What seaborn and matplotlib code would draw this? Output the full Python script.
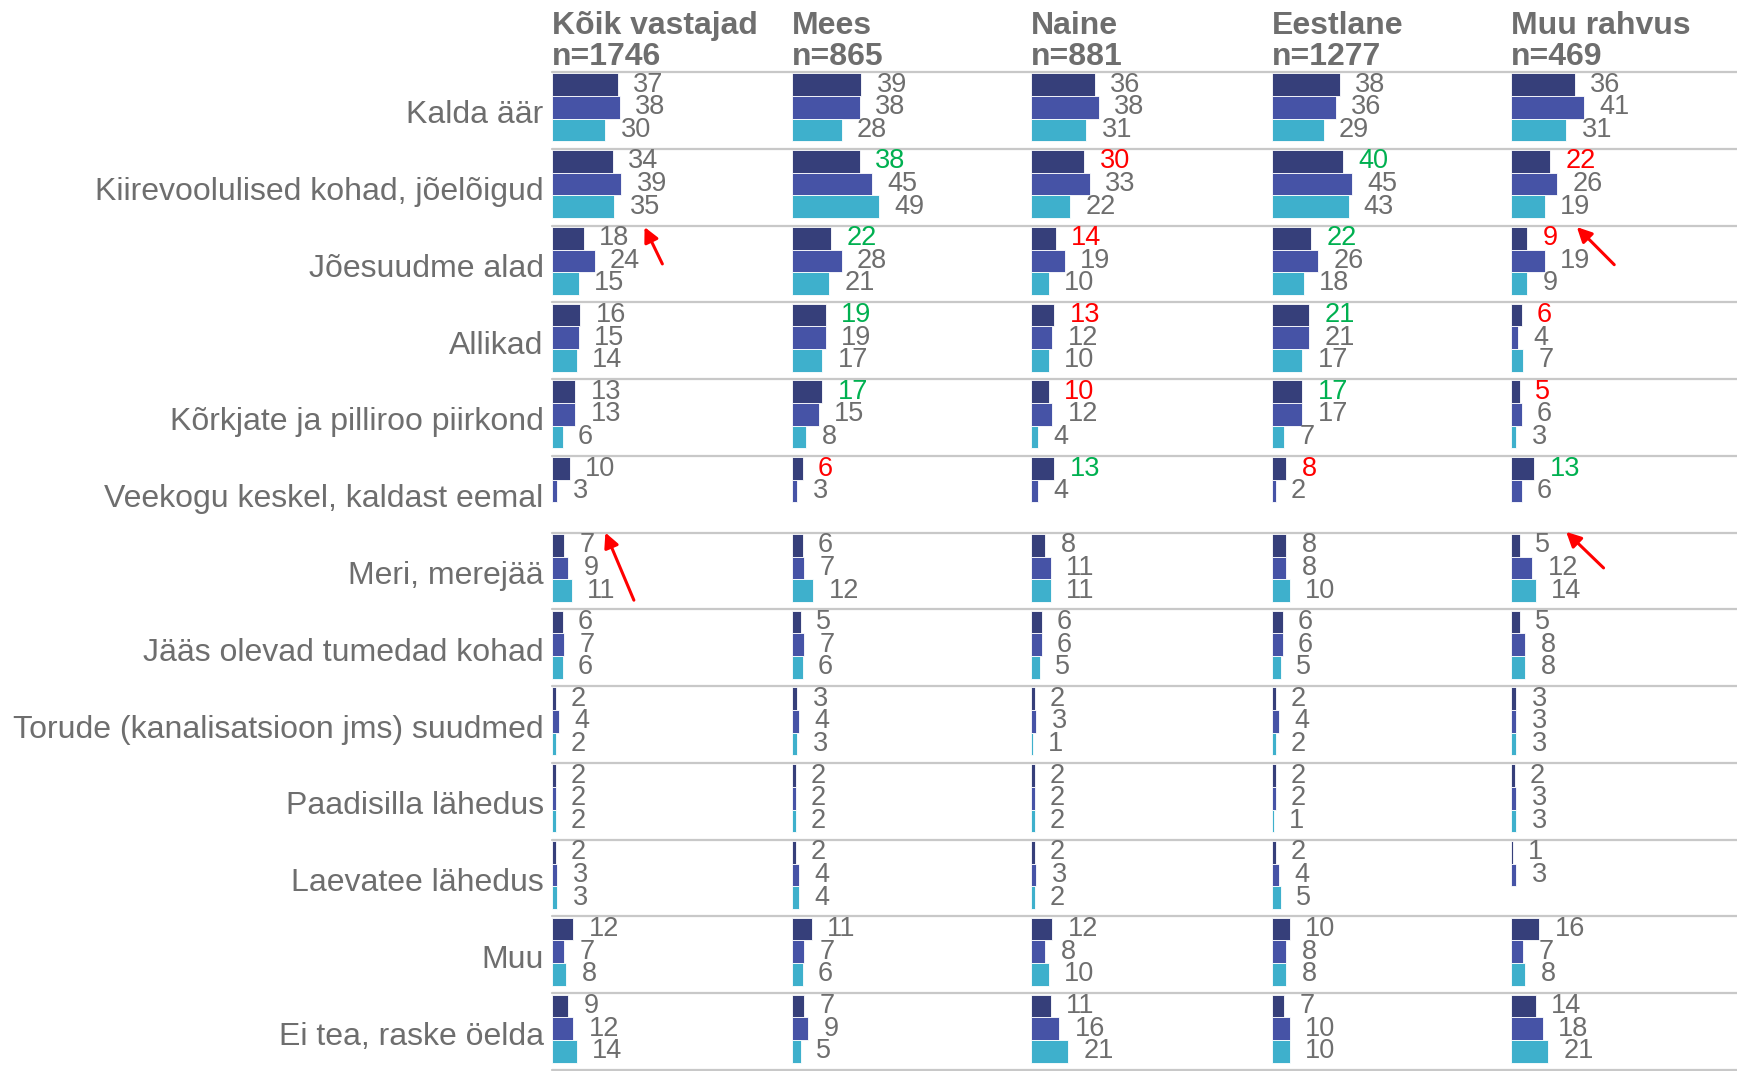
import numpy as np
import pandas as pd
import matplotlib
matplotlib.use('Agg')
import matplotlib.pyplot as plt
import seaborn as sns

# Categories (rows)
categories = ['Kalda äär', 'Kiirevoolulised kohad, jõelõigud', 'Jõesuudme alad', 'Allikad',
              'Kõrkjate ja pilliroo piirkond', 'Veekogu keskel, kaldast eemal', 'Meri, merejää',
              'Jääs olevad tumedad kohad', 'Torude (kanalisatsioon jms) suudmed', 'Paadisilla lähedus',
              'Laevatee lähedus', 'Muu', 'Ei tea, raske öelda']
series = ['s1', 's2', 's3']
groups = ['Kõik vastajad', 'Mees', 'Naine', 'Eestlane', 'Muu rahvus']
group_n = [1746, 865, 881, 1277, 469]

nan = np.nan
koik_s1 = [37, 34, 18, 16, 13, 10, 7, 6, 2, 2, 2, 12, 9]
koik_s2 = [38, 39, 24, 15, 13, 3, 9, 7, 4, 2, 3, 7, 12]
koik_s3 = [30, 35, 15, 14, 6, nan, 11, 6, 2, 2, 3, 8, 14]

mees_s1 = [39, 38, 22, 19, 17, 6, 6, 5, 3, 2, 2, 11, 7]
mees_s2 = [38, 45, 28, 19, 15, 3, 7, 7, 4, 2, 4, 7, 9]
mees_s3 = [28, 49, 21, 17, 8, nan, 12, 6, 3, 2, 4, 6, 5]

naine_s1 = [36, 30, 14, 13, 10, 13, 8, 6, 2, 2, 2, 12, 11]
naine_s2 = [38, 33, 19, 12, 12, 4, 11, 6, 3, 2, 3, 8, 16]
naine_s3 = [31, 22, 10, 10, 4, nan, 11, 5, 1, 2, 2, 10, 21]

eesti_s1 = [38, 40, 22, 21, 17, 8, 8, 6, 2, 2, 2, 10, 7]
eesti_s2 = [36, 45, 26, 21, 17, 2, 8, 6, 4, 2, 4, 8, 10]
eesti_s3 = [29, 43, 18, 17, 7, nan, 10, 5, 2, 1, 5, 8, 10]

muu_s1 = [36, 22, 9, 6, 5, 13, 5, 5, 3, 2, 1, 16, 14]
muu_s2 = [41, 26, 19, 4, 6, 6, 12, 8, 3, 3, 3, 7, 18]
muu_s3 = [31, 19, 9, 7, 3, nan, 14, 8, 3, 3, nan, 8, 21]

# significance marks for the first series ('up' = green, 'down' = red)
koik_sig = [''] * 13
mees_sig = ['', 'up', 'up', 'up', 'up', 'down', '', '', '', '', '', '', '']
naine_sig = ['', 'down', 'down', 'down', 'down', 'up', '', '', '', '', '', '', '']
eesti_sig = ['', 'up', 'up', 'up', 'up', 'down', '', '', '', '', '', '', '']
muu_sig = ['', 'down', 'down', 'down', 'down', 'up', '', '', '', '', '', '', '']

all_vals = [(koik_s1, koik_s2, koik_s3), (mees_s1, mees_s2, mees_s3), (naine_s1, naine_s2, naine_s3),
            (eesti_s1, eesti_s2, eesti_s3), (muu_s1, muu_s2, muu_s3)]
all_sig = [koik_sig, mees_sig, naine_sig, eesti_sig, muu_sig]

# Build long dataframe
rows = []
for g, vals in zip(groups, all_vals):
    for s, v in zip(series, vals):
        for c, x in zip(categories, v):
            rows.append({'group': g, 'series': s, 'cat': c, 'value': x})
df = pd.DataFrame(rows).dropna()

palette = {'s1': '#363F7A', 's2': '#4653A6', 's3': '#3EB0CC'}
gray = '#6E6E6E'
sig_colors = {'up': '#00B050', 'down': '#FF0000', '': gray}

sns.set_theme(style='white')
plt.rcParams['font.family'] = ['Liberation Sans', 'DejaVu Sans']

W, H = 1737, 1071
fig = plt.figure(figsize=(W / 100, H / 100), dpi=100)

px_per_unit = 1.78
top_px, bot_px = 72, 1070
lefts = [552, 792, 1031, 1272, 1511]

axes = []
for k, g in enumerate(groups):
    left = lefts[k]
    width = (lefts[k + 1] - left) if k < 4 else (W - left)
    ax = fig.add_axes([left / W, 1 - bot_px / H, width / W, (bot_px - top_px) / H])
    sub = df[df['group'] == g]
    sns.barplot(data=sub, y='cat', x='value', hue='series', order=categories, hue_order=series,
                palette=palette, saturation=1, orient='h', width=0.885, gap=0, legend=False, ax=ax,
                edgecolor='white', linewidth=0.6, errorbar=None)
    ax.set_xlim(0, width / px_per_unit)
    ax.set_ylim(12.54, -0.46)
    for i in range(14):
        ax.axhline(i - 0.46, color='#C8C8C8', lw=1.6, clip_on=False, zorder=0)
    for sp in ax.spines.values():
        sp.set_visible(False)
    ax.set_xticks([])
    ax.set_xlabel('')
    ax.set_ylabel('')
    if k == 0:
        ax.set_yticks(np.arange(len(categories)) + 0.06, labels=categories)
        ax.tick_params(axis='y', length=0, pad=6, labelsize=23, labelcolor=gray)
        for lab in ax.get_yticklabels():
            lab.set_verticalalignment('center_baseline')
    else:
        ax.set_yticks([])

    # value labels
    for s_idx, cont in enumerate(ax.containers):
        texts = ax.bar_label(cont, fmt='%g', padding=11, fontsize=19.5, color=gray)
        if s_idx == 0:
            for bar, t in zip(cont, texts):
                ci = int(round(bar.get_y() + bar.get_height() / 2))
                t.set_color(sig_colors[all_sig[k][ci]])

    ax.annotate(f'{g}\nn={group_n[k]}', xy=(0, 1), xycoords='axes fraction', xytext=(0, 0),
                textcoords='offset pixels', ha='left', va='bottom', fontsize=23, fontweight='bold',
                color=gray, linespacing=1.03)
    axes.append(ax)

# red arrows
arrow_kw = dict(arrowstyle='-|>', color='#FF0000', lw=2.2, mutation_scale=22, shrinkA=0, shrinkB=0)
axes[0].annotate('', xy=(52, 1.56), xytext=(62, 2.04), arrowprops=arrow_kw, annotation_clip=False)
axes[0].annotate('', xy=(30, 5.54), xytext=(46, 6.42), arrowprops=arrow_kw, annotation_clip=False)
axes[4].annotate('', xy=(37, 1.56), xytext=(58, 2.05), arrowprops=arrow_kw, annotation_clip=False)
axes[4].annotate('', xy=(31, 5.53), xytext=(52, 6.0), arrowprops=arrow_kw, annotation_clip=False)

fig.savefig('out.png', dpi=100)
